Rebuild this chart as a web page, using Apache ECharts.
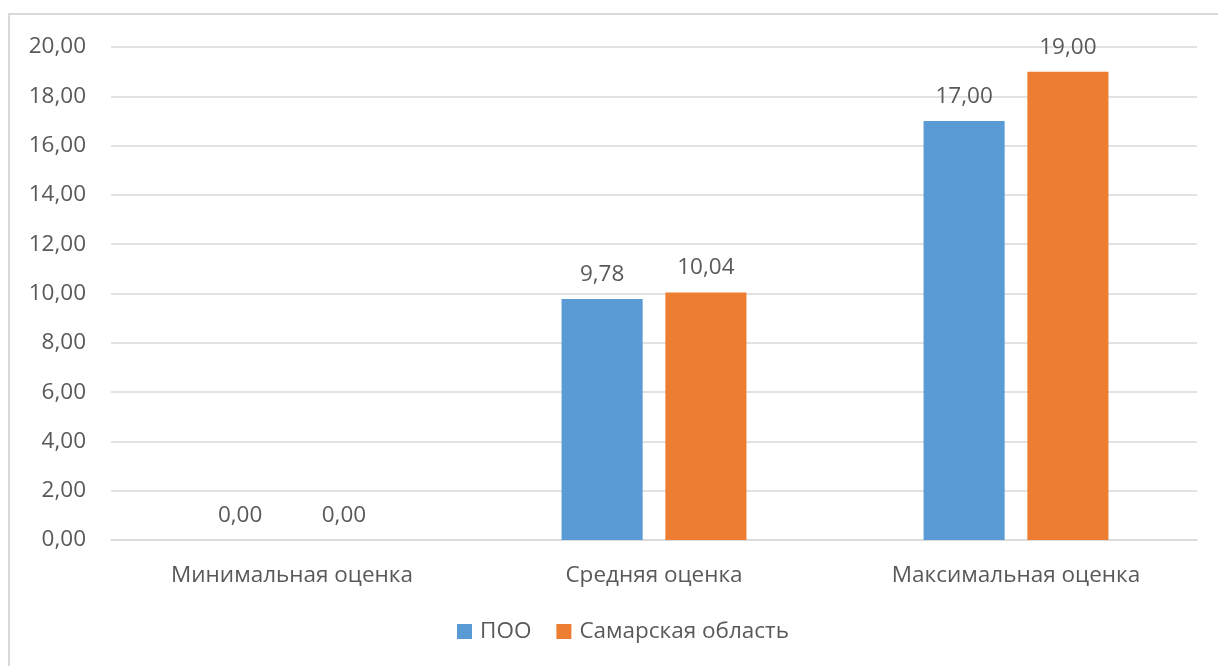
<!DOCTYPE html>
<html><head><meta charset="utf-8">
<script src="https://cdn.jsdelivr.net/npm/echarts@6/dist/echarts.min.js"></script>
<style>html,body{margin:0;padding:0;background:#fff;}#c{width:1218px;height:666px;}</style>
</head><body><div id="c"></div>
<script>
var categories = ['Минимальная оценка', 'Средняя оценка', 'Максимальная оценка'];
var seriesNames = ['ПОО', 'Самарская область'];
var pooValues = [0, 9.78, 17];
var regionValues = [0, 10.04, 19];
var yMin = 0, yMax = 20, yStep = 2;

var fmt = function (v) { return Number(v).toFixed(2).replace('.', ','); };
var font = 'Open Sans';
var txt = '#595959';
var fs = 22.5;
var chart = echarts.init(document.getElementById('c'));
chart.setOption({
  animation: false,
  textStyle: { fontFamily: font },
  graphic: [{ type: 'rect', shape: { x: 9, y: 14, width: 1300, height: 700 },
    style: { fill: 'none', stroke: '#d9d9d9', lineWidth: 2 } }],
  grid: { left: 111, right: 21, top: 47, bottom: 126 },
  legend: {
    data: seriesNames, bottom: 18, left: 452, itemWidth: 15, itemHeight: 15, itemGap: 25,
    icon: 'rect', textStyle: { color: txt, fontSize: fs, fontFamily: font, padding: [0, 0, 0, 3] }
  },
  xAxis: {
    type: 'category', data: categories,
    axisLine: { lineStyle: { color: '#d9d9d9', width: 1.5 } },
    axisTick: { show: false },
    axisLabel: { color: txt, fontSize: fs, margin: 24, fontFamily: font }
  },
  yAxis: {
    type: 'value', min: yMin, max: yMax, interval: yStep,
    axisLine: { show: false }, axisTick: { show: false },
    splitLine: { lineStyle: { color: '#d9d9d9', width: 1.5 } },
    axisLabel: { color: txt, fontSize: fs, margin: 25, formatter: fmt, fontFamily: font }
  },
  series: [
    { name: seriesNames[0], type: 'bar', data: pooValues, barWidth: '22.4%', barGap: '28%',
      itemStyle: { color: '#5B9BD5' },
      label: { show: true, position: 'top', distance: 13, color: txt, fontSize: fs, formatter: function (p) { return fmt(p.value); } } },
    { name: seriesNames[1], type: 'bar', data: regionValues, barWidth: '22.4%', barGap: '28%',
      itemStyle: { color: '#ED7D31' },
      label: { show: true, position: 'top', distance: 13, color: txt, fontSize: fs, formatter: function (p) { return fmt(p.value); } } }
  ]
});
</script></body></html>
